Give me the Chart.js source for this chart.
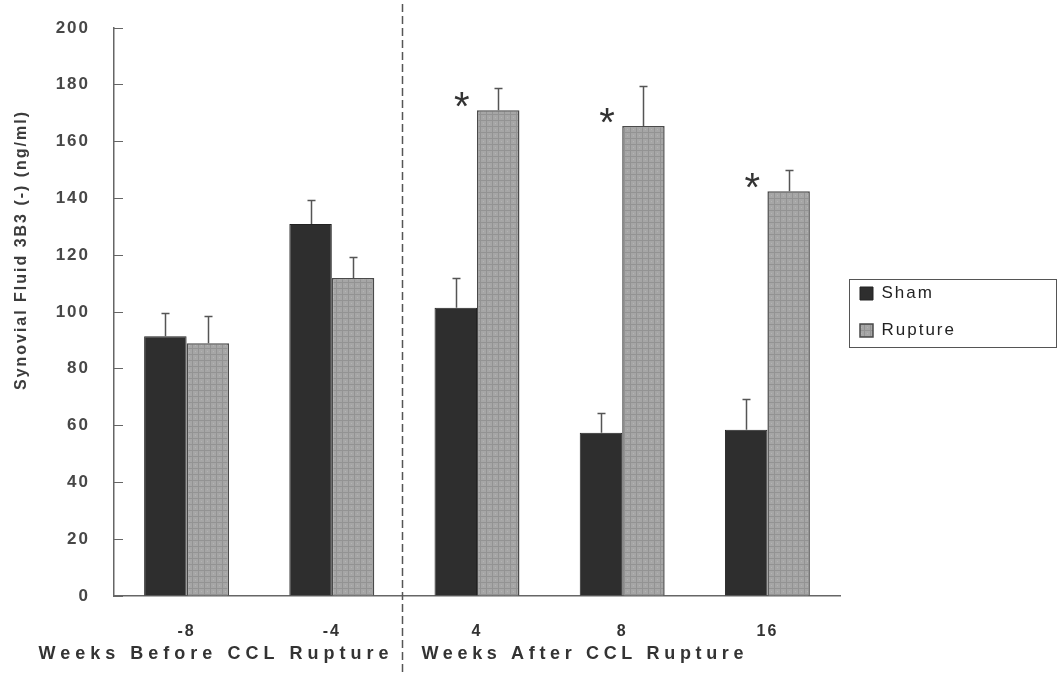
<!DOCTYPE html>
<html><head><meta charset="utf-8">
<script src="https://cdn.jsdelivr.net/npm/chart.js@4.4.1/dist/chart.umd.min.js"></script>
<style>html,body{margin:0;padding:0;background:#fff;overflow:hidden}#wrap{width:1058px;height:673px}</style>
</head><body><div id="wrap"><canvas id="c" width="1058" height="673"></canvas></div>
<script>
// ---- data ----
const categories = ['-8', '-4', '4', '8', '16'];
const seriesNames = ['Sham', 'Rupture'];
const shamMeans = [91.5, 131, 101.5, 57.5, 58.5];
const shamErrors = [8, 8.5, 10.5, 7, 11];
const ruptureMeans = [89, 112, 171, 165.5, 142.5];
const ruptureErrors = [9.5, 7.5, 8, 14, 7.5];
const significant = [false, false, true, true, true];
const yTickValues = [0, 20, 40, 60, 80, 100, 120, 140, 160, 180, 200];
const periodLabels = ['Weeks Before CCL Rupture', 'Weeks After CCL Rupture'];
const yTitle = 'Synovial Fluid 3B3 (-) (ng/ml)';

const FONT = '"Liberation Sans", Arial, sans-serif';
const NARROW = '"Liberation Sans Narrow", "Arial Narrow", "Liberation Sans", Arial, sans-serif';

function makePattern() {
  const c = document.createElement('canvas');
  c.width = 6; c.height = 6;
  const g = c.getContext('2d');
  g.fillStyle = '#a6a6a6'; g.fillRect(0, 0, 6, 6);
  g.fillStyle = '#939393'; g.fillRect(0, 0, 6, 1); g.fillRect(0, 0, 1, 6);
  g.fillStyle = '#b4b4b4'; g.fillRect(3, 3, 1, 1);
  return g.createPattern(c, 'repeat');
}
const rupturePattern = makePattern();

const spacingPlugin = {
  id: 'spacing',
  beforeDraw(chart) { chart.ctx.letterSpacing = '2px'; },
  afterDraw(chart) { chart.ctx.letterSpacing = '0px'; }
};

const legendSizePlugin = {
  id: 'legendSize',
  afterInit(chart) {
    const lg = chart.legend;
    if (!lg || lg._patched) return;
    const f = lg.fit;
    lg.fit = function () { f.call(this); this.width = 218; };
    lg._patched = true;
  }
};

const errorBarPlugin = {
  id: 'errorBars',
  afterDatasetsDraw(chart) {
    const ctx = chart.ctx, yS = chart.scales.y;
    const sets = [[0, shamMeans, shamErrors], [1, ruptureMeans, ruptureErrors]];
    ctx.save();
    ctx.strokeStyle = '#555'; ctx.lineWidth = 1.5;
    sets.forEach(([di, m, e]) => {
      chart.getDatasetMeta(di).data.forEach((bar, i) => {
        const x = Math.round(bar.x) + 0.5;
        const y0 = yS.getPixelForValue(m[i]);
        const y1 = Math.round(yS.getPixelForValue(m[i] + e[i])) + 0.5;
        ctx.beginPath();
        ctx.moveTo(x, y0); ctx.lineTo(x, y1);
        ctx.moveTo(x - 4, y1); ctx.lineTo(x + 4, y1);
        ctx.stroke();
      });
    });
    // significance asterisks
    ctx.fillStyle = '#333';
    const fs = 40;
    ctx.font = fs + 'px ' + FONT;
    ctx.textAlign = 'center'; ctx.textBaseline = 'alphabetic';
    ctx.letterSpacing = '0px';
    const shamMeta = chart.getDatasetMeta(0);
    significant.forEach((s, i) => {
      if (!s) return;
      const x = shamMeta.data[i].x + 6;
      const cy = yS.getPixelForValue(ruptureMeans[i]) - 13;
      ctx.fillText('*', x, cy + 0.575 * fs);
    });
    ctx.restore();
  }
};

function spacedText(ctx, text, x, y, targetW, align) {
  ctx.letterSpacing = '0px';
  const w = ctx.measureText(text).width;
  const ls = (targetW - w) / (text.length - 1);
  ctx.letterSpacing = ls + 'px';
  ctx.textAlign = 'left';
  const sx = align === 'right' ? x - targetW : (align === 'center' ? x - targetW / 2 : x);
  ctx.fillText(text, sx, y);
  ctx.letterSpacing = '0px';
}

const annotationPlugin = {
  id: 'annotations',
  afterDraw(chart) {
    const ctx = chart.ctx, xS = chart.scales.x;
    const dx = Math.round((xS.getPixelForValue(1) + xS.getPixelForValue(2)) / 2 - 2) + 0.5;
    ctx.save();
    // divider
    ctx.strokeStyle = '#555'; ctx.lineWidth = 1.5;
    ctx.setLineDash([8, 4]);
    ctx.beginPath(); ctx.moveTo(dx, 4); ctx.lineTo(dx, 673); ctx.stroke();
    ctx.setLineDash([]);
    // period labels
    ctx.fillStyle = '#333';
    ctx.font = 'bold 18px ' + NARROW;
    ctx.textBaseline = 'middle';
    spacedText(ctx, periodLabels[0], dx - 14, 654, 350, 'right');
    spacedText(ctx, periodLabels[1], dx + 19, 654, 322, 'left');
    // y title
    ctx.save();
    ctx.translate(22, 251);
    ctx.rotate(-Math.PI / 2);
    ctx.fillStyle = '#3c3c3c';
    ctx.font = 'bold 16px ' + FONT;
    spacedText(ctx, yTitle, 0, 0, 278, 'center');
    ctx.restore();
    // legend border
    const lg = chart.legend;
    const hb = lg.legendHitBoxes;
    if (hb && hb.length) {
      const l = Math.round(lg.left + 9) + 0.5;
      const t = Math.round(hb[0].top - 6) + 0.5;
      const b = Math.round(hb[hb.length - 1].top + hb[hb.length - 1].height + 8) + 0.5;
      ctx.strokeStyle = '#555'; ctx.lineWidth = 1;
      ctx.strokeRect(l, t, 1056.5 - l, b - t);
    }
    ctx.restore();
  }
};

new Chart(document.getElementById('c'), {
  type: 'bar',
  data: {
    labels: categories,
    datasets: [
      { label: seriesNames[0], data: shamMeans, backgroundColor: '#2e2e2e', borderColor: '#222', borderWidth: 1 },
      { label: seriesNames[1], data: ruptureMeans, backgroundColor: rupturePattern, borderColor: '#4a4a4a', borderWidth: 1.5 }
    ]
  },
  options: {
    responsive: false,
    animation: false,
    devicePixelRatio: 1,
    layout: { padding: { top: 28, left: 0, right: 0, bottom: 0 } },
    datasets: { bar: { categoryPercentage: 0.585, barPercentage: 1 } },
    plugins: {
      tooltip: { enabled: false },
      legend: {
        position: 'right', align: 'center', fullSize: false,
        labels: { font: { family: FONT, size: 17 }, color: '#222', boxWidth: 13, boxHeight: 13, padding: 20 }
      }
    },
    scales: {
      x: {
        grid: { display: true, drawOnChartArea: false, drawTicks: false },
        border: { display: true, color: '#666', width: 1.5 },
        ticks: { font: { family: FONT, size: 16, weight: 'bold' }, color: '#333', padding: 26 },
        afterFit: s => { s.height = 77; }
      },
      y: {
        min: 0, max: 200,
        afterBuildTicks: s => { s.ticks = yTickValues.map(v => ({ value: v })); },
        grid: { display: true, drawOnChartArea: false, drawTicks: true, tickLength: -9, color: '#666', lineWidth: 1 },
        border: { display: true, color: '#666', width: 1.5 },
        ticks: { font: { family: FONT, size: 17, weight: 'bold' }, color: '#474747', padding: 33 },
        afterFit: s => { s.width = 114; s.paddingTop = 10; s.paddingBottom = 10; }
      }
    }
  },
  plugins: [spacingPlugin, legendSizePlugin, errorBarPlugin, annotationPlugin]
});
</script></body></html>
